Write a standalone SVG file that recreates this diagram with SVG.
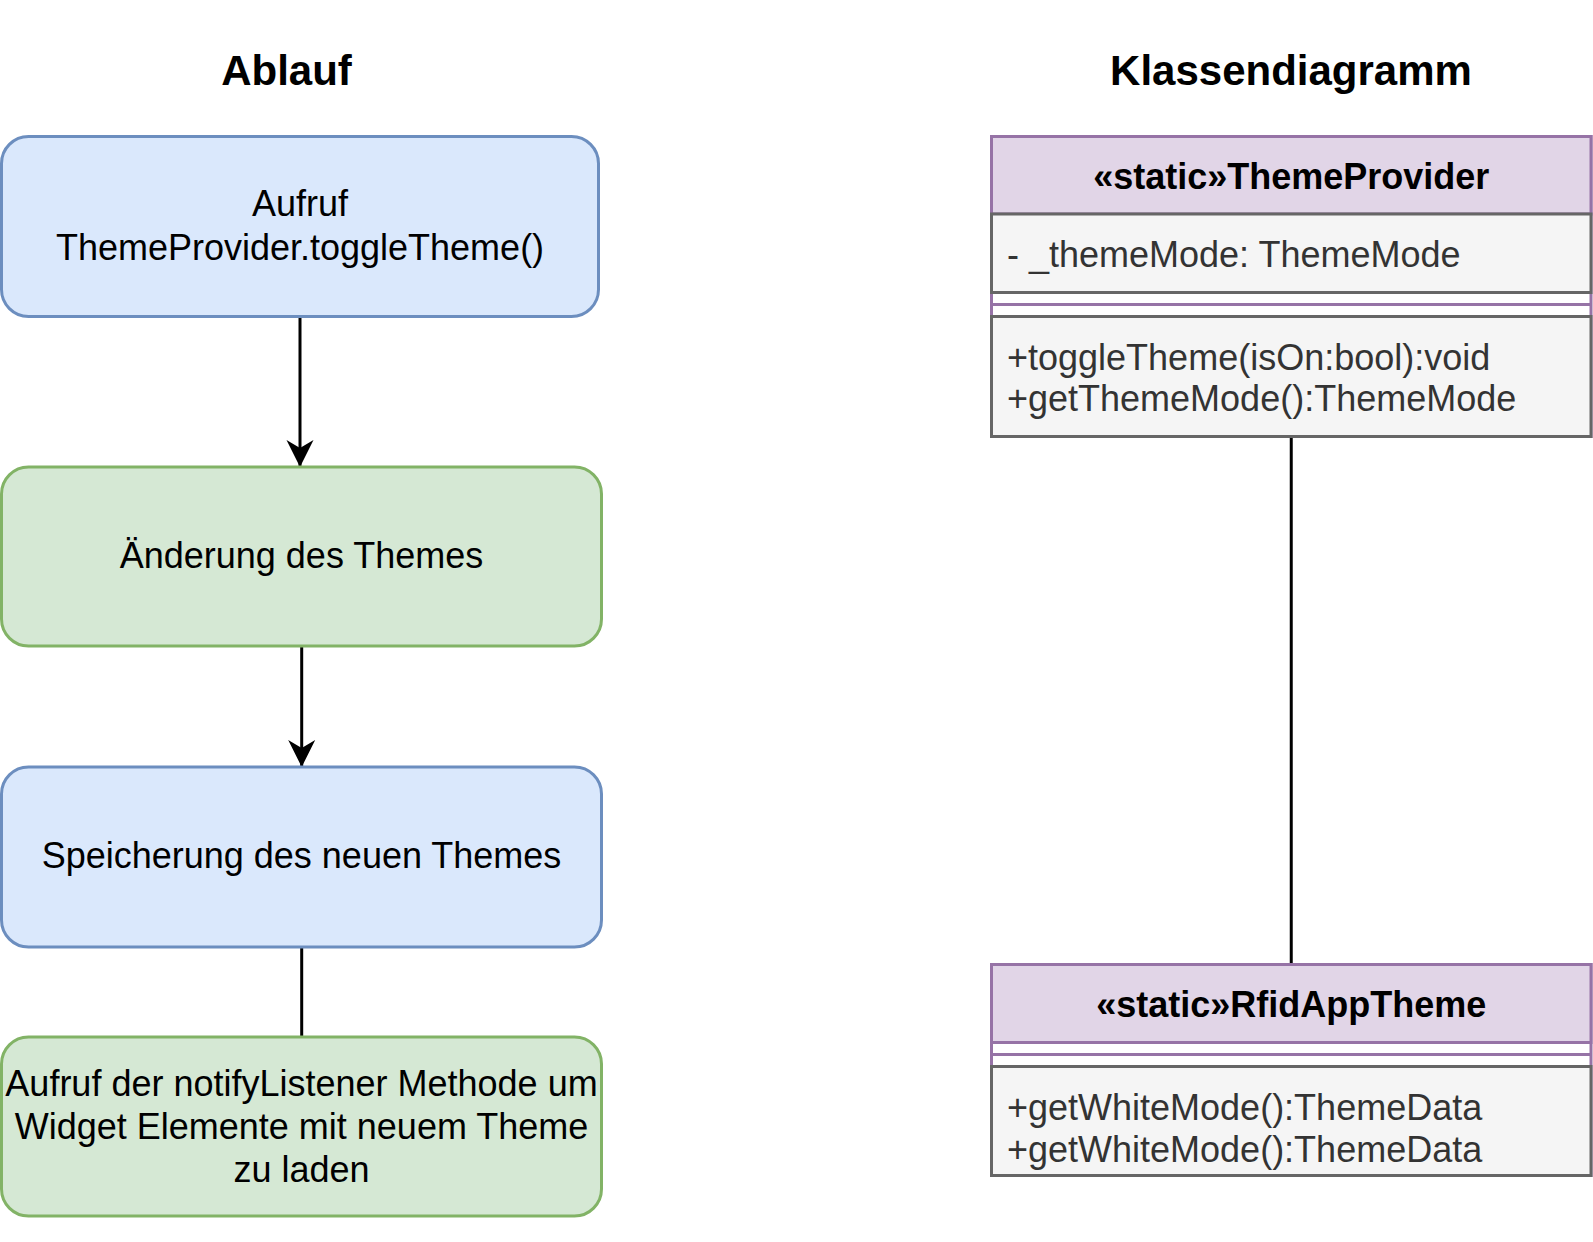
<svg xmlns="http://www.w3.org/2000/svg" width="1593" height="1242" viewBox="0 0 1593 1242">
<style>
text{font-family:"Liberation Sans",Arial,Helvetica,sans-serif;font-size:36px;fill:#000}
.title{font-size:42px;font-weight:bold;text-anchor:middle}
.c{text-anchor:middle}
.b{font-weight:bold}
.m{fill:#333}
.blue{fill:#dae8fc;stroke:#6c8ebf;stroke-width:3}
.green{fill:#d5e8d4;stroke:#82b366;stroke-width:3}
.cls{fill:#fff;stroke:#9673a6;stroke-width:3}
.hdr{fill:#e1d5e7;stroke:#9673a6;stroke-width:3}
.fld{fill:#f5f5f5;stroke:#666;stroke-width:3}
.sep{stroke:#9673a6;stroke-width:3}
.edge{stroke:#000;stroke-width:3;fill:none}
</style>
<defs>
<marker id="arr" markerUnits="userSpaceOnUse" markerWidth="28" markerHeight="28" viewBox="0 0 28 28" refX="27" refY="14" orient="auto">
<path d="M0,0.5 L27,14 L0,27.5 L8,14 Z" fill="#000"/>
</marker>
</defs>
<rect width="1593" height="1242" fill="#fff"/>
<text class="title" x="286.5" y="85">Ablauf</text>
<text class="title" x="1291" y="85">Klassendiagramm</text>
<g id="edges">
<path class="edge" d="M300,316.5 L300,467" marker-end="url(#arr)"/>
<path class="edge" d="M301.7,646 L301.7,767" marker-end="url(#arr)"/>
<path class="edge" d="M301.7,947 L301.7,1037"/>
<path class="edge" d="M1291.25,436.5 L1291.25,964.5"/>
</g>
<g id="n1">
<rect class="blue" x="1.5" y="136.5" width="597" height="180" rx="27"/>
<text class="c" x="300" y="216.4">Aufruf</text>
<text class="c" x="300" y="259.6">ThemeProvider.toggleTheme()</text>
</g>
<g id="n2">
<rect class="green" x="1.5" y="467" width="600" height="179" rx="27"/>
<text class="c" x="301.5" y="567.5">Änderung des Themes</text>
</g>
<g id="n3">
<rect class="blue" x="1.5" y="767" width="600" height="180" rx="27"/>
<text class="c" x="301.5" y="867.5">Speicherung des neuen Themes</text>
</g>
<g id="n4">
<rect class="green" x="1.5" y="1037" width="600" height="179" rx="27"/>
<text class="c" x="301.5" y="1095.5">Aufruf der notifyListener Methode um</text>
<text class="c" x="301.5" y="1138.7">Widget Elemente mit neuem Theme</text>
<text class="c" x="301.5" y="1181.9">zu laden</text>
</g>
<g id="themeProvider">
<rect class="cls" x="991.5" y="136.5" width="599.5" height="300"/>
<rect class="hdr" x="991.5" y="136.5" width="599.5" height="77.5"/>
<text class="c b" x="1291.25" y="188.5">«static»ThemeProvider</text>
<rect class="fld" x="991.5" y="214" width="599.5" height="78.5"/>
<text class="m" x="1007" y="266.5">- _themeMode: ThemeMode</text>
<line class="sep" x1="991.5" y1="304.5" x2="1591" y2="304.5"/>
<rect class="fld" x="991.5" y="316.5" width="599.5" height="120"/>
<text class="m" x="1007" y="369.6">+toggleTheme(isOn:bool):void</text>
<text class="m" x="1007" y="411.3">+getThemeMode():ThemeMode</text>
</g>
<g id="rfidAppTheme">
<rect class="cls" x="991.5" y="964.5" width="599.5" height="211"/>
<rect class="hdr" x="991.5" y="964.5" width="599.5" height="78"/>
<text class="c b" x="1291.25" y="1016.5">«static»RfidAppTheme</text>
<line class="sep" x1="991.5" y1="1054.5" x2="1591" y2="1054.5"/>
<rect class="fld" x="991.5" y="1066.5" width="599.5" height="109"/>
<text class="m" x="1007" y="1119.6">+getWhiteMode():ThemeData</text>
<text class="m" x="1007" y="1162">+getWhiteMode():ThemeData</text>
</g>
</svg>
